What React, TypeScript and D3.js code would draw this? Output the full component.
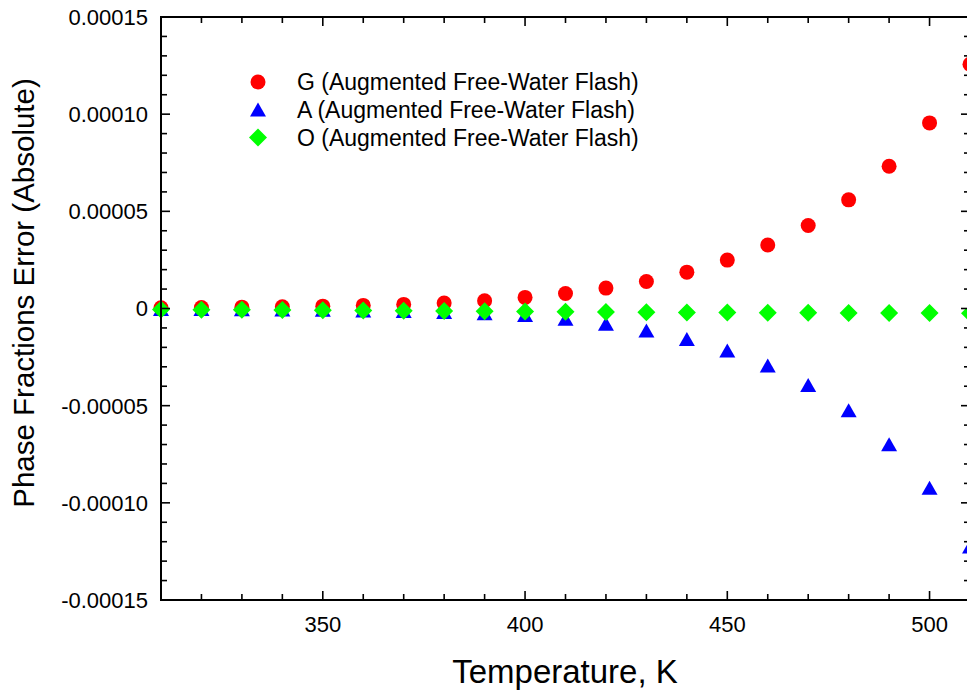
import React from "react";
import * as d3 from "d3";

const temps = [310, 320, 330, 340, 350, 360, 370, 380, 390, 400, 410, 420, 430, 440, 450, 460, 470, 480, 490, 500, 510];
// values in units of 1e-4
const gVals = [0.004, 0.005, 0.007, 0.009, 0.012, 0.016, 0.021, 0.028, 0.040, 0.057, 0.077, 0.105, 0.139, 0.187, 0.249, 0.327, 0.427, 0.559, 0.732, 0.955, 1.257];
const aVals = [-0.002, -0.003, -0.004, -0.005, -0.007, -0.010, -0.013, -0.018, -0.024, -0.033, -0.053, -0.079, -0.113, -0.157, -0.216, -0.293, -0.394, -0.524, -0.699, -0.923, -1.225];
const oVals = [-0.005, -0.006, -0.007, -0.008, -0.009, -0.010, -0.011, -0.013, -0.014, -0.016, -0.017, -0.018, -0.019, -0.020, -0.021, -0.022, -0.022, -0.023, -0.023, -0.023, -0.024];

const xMajor = [350, 400, 450, 500];
const yMajor = [0.00015, 0.0001, 0.00005, 0, -0.00005, -0.0001, -0.00015];
const yLabels = ["0.00015", "0.00010", "0.00005", "0", "-0.00005", "-0.00010", "-0.00015"];
const legendLabels = [
  "G (Augmented Free-Water Flash)",
  "A (Augmented Free-Water Flash)",
  "O (Augmented Free-Water Flash)",
];

const W = 967;
const H = 690;
const L = 161, R = 970, T = 17, B = 600;
const FONT = "'Liberation Sans', Arial, sans-serif";

export default function App() {
  const x = d3.scaleLinear().domain([310, 510]).range([L, R]);
  const y = d3.scaleLinear().domain([-0.00015, 0.00015]).range([B, T]);
  const xMinor = d3.range(310, 511, 10).filter((v) => v % 50 !== 0);
  const yMinor = d3.range(-15, 16, 1).filter((v) => v % 5 !== 0).map((v) => v * 1e-5);

  const circle = (cx: number, cy: number, key: string) => (
    <circle key={key} cx={cx} cy={cy} r={7.5} fill="#ff0000" />
  );
  const tri = (cx: number, cy: number, key: string) => (
    <path key={key} d={`M${cx},${cy - 7}L${cx + 8},${cy + 7}L${cx - 8},${cy + 7}Z`} fill="#0000ff" />
  );
  const dia = (cx: number, cy: number, key: string) => (
    <path key={key} d={`M${cx},${cy - 9}L${cx + 9},${cy}L${cx},${cy + 9}L${cx - 9},${cy}Z`} fill="#00ff00" />
  );

  const tickStyle = { stroke: "#000", strokeWidth: 1.6 };

  return (
    <svg width={W} height={H} style={{ position: "absolute", left: 0, top: 0, background: "#fff" }} fontFamily={FONT}>
      <rect x={0} y={0} width={W} height={H} fill="#fff" />
      {/* markers */}
      <g>
        {temps.map((t, i) => circle(x(t), y(gVals[i] * 1e-4), "g" + i))}
        {temps.map((t, i) => tri(x(t), y(aVals[i] * 1e-4), "a" + i))}
        {temps.map((t, i) => dia(x(t), y(oVals[i] * 1e-4), "o" + i))}
      </g>
      {/* frame */}
      <rect x={L} y={T} width={R - L} height={B - T} fill="none" stroke="#000" strokeWidth={2} />
      {/* x ticks */}
      {xMajor.map((v) => (
        <g key={"xm" + v}>
          <line x1={x(v)} x2={x(v)} y1={B} y2={B - 9} {...tickStyle} />
          <line x1={x(v)} x2={x(v)} y1={T} y2={T + 9} {...tickStyle} />
          <text x={x(v)} y={632} textAnchor="middle" fontSize={22} fill="#000">{v}</text>
        </g>
      ))}
      {xMinor.map((v) => (
        <g key={"xn" + v}>
          <line x1={x(v)} x2={x(v)} y1={B} y2={B - 6} {...tickStyle} />
          <line x1={x(v)} x2={x(v)} y1={T} y2={T + 6} {...tickStyle} />
        </g>
      ))}
      {/* y ticks */}
      {yMajor.map((v, i) => (
        <g key={"ym" + i}>
          <line x1={L} x2={L + 9} y1={y(v)} y2={y(v)} {...tickStyle} />
          <line x1={R} x2={R - 9} y1={y(v)} y2={y(v)} {...tickStyle} />
          <text x={148} y={y(v)} dy="0.36em" textAnchor="end" fontSize={22} fill="#000">{yLabels[i]}</text>
        </g>
      ))}
      {yMinor.map((v, i) => (
        <g key={"yn" + i}>
          <line x1={L} x2={L + 6} y1={y(v)} y2={y(v)} {...tickStyle} />
          <line x1={R} x2={R - 6} y1={y(v)} y2={y(v)} {...tickStyle} />
        </g>
      ))}
      {/* axis titles */}
      <text x={565} y={683} textAnchor="middle" fontSize={33} fill="#000">Temperature, K</text>
      <text transform={`translate(34,293) rotate(-90)`} textAnchor="middle" fontSize={29.5} fill="#000">Phase Fractions Error (Absolute)</text>
      {/* legend */}
      <g>
        {circle(258, 82, "lg")}
        {tri(258, 109.5, "la")}
        {dia(258, 137.5, "lo")}
        {legendLabels.map((s, i) => (
          <text key={s} x={297} y={82 + i * 28} dy="0.36em" fontSize={23} fill="#000">{s}</text>
        ))}
      </g>
    </svg>
  );
}
